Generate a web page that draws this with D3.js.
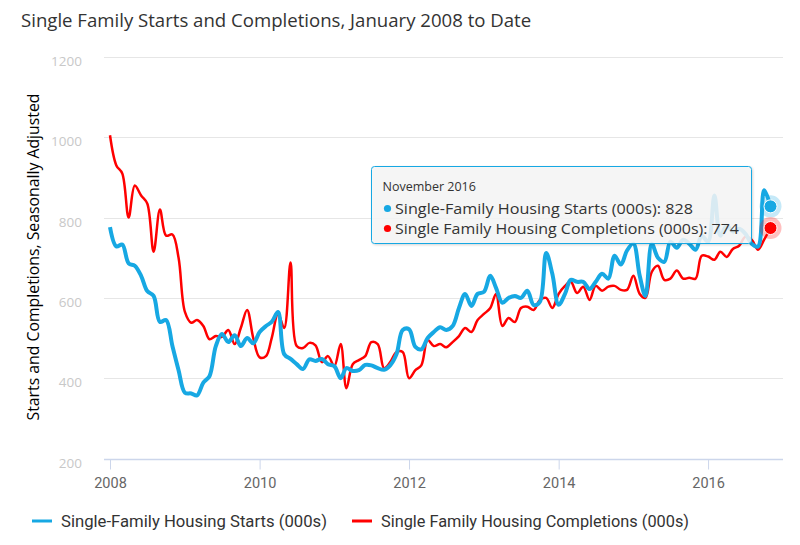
<!DOCTYPE html>
<html><head><meta charset="utf-8">
<script src="https://cdn.jsdelivr.net/npm/d3@7"></script>
<style>
body{margin:0;background:#fff;}
svg{display:block;font-family:"Open Sans",sans-serif;}
</style>
</head><body>
<svg id="c" width="800" height="545"></svg>
<script>
// ---- data (thousands, seasonally adjusted annual rate), monthly from Jan 2008 ----
const firstYear = 2008;
const starts = [
  776,728,733,686,680,655,617,605,540,545,480,420,
  364,362,357,389,405,480,510,490,507,480,500,487,
  515,530,540,565,460,448,435,423,447,443,448,435,
  430,400,425,418,420,433,432,425,421,432,460,520,
  522,478,472,500,515,527,520,530,575,610,580,610,
  615,655,625,588,600,605,600,618,582,590,712,660,
  583,610,645,640,640,622,640,660,648,705,683,718,
  735,655,605,735,700,690,740,725,745,735,720,755,
  740,855,755,780,765,772,760,735,728,868,828
];
const completions = [
  1005,930,910,800,880,855,835,715,820,755,758,700,
  565,538,545,530,497,505,503,520,485,525,570,500,
  452,455,500,560,525,688,480,475,488,482,440,455,
  430,485,375,435,445,455,490,485,425,440,465,465,
  400,420,432,495,480,485,477,490,505,525,515,545,
  560,575,610,530,550,540,575,578,570,595,600,575,
  610,630,640,612,628,595,630,618,628,630,620,620,
  655,610,600,665,680,645,648,668,648,650,648,705,
  703,695,715,702,722,730,752,745,720,745,774
];
const seriesNames = ["Single-Family Housing Starts (000s)", "Single Family Housing Completions (000s)"];
const seriesColors = ["#17a8e3", "#ff0000"];
const yTicks = [200, 400, 600, 800, 1000, 1200];
const xTickYears = [2008, 2010, 2012, 2014, 2016];
const titleText = "Single Family Starts and Completions, January 2008 to Date";
const yTitle = "Starts and Completions, Seasonally Adjusted";
const tooltipHeader = "November 2016";

// ---- layout ----
const svg = d3.select("#c");
const dates = starts.map((_, i) => new Date(firstYear, i, 1));
const x = d3.scaleTime().domain([dates[0], dates[dates.length - 1]]).range([110, 770.5]);
const y = d3.scaleLinear().domain([200, 1200]).range([458.5, 57]);
const plotLeft = 104, plotRight = 783;

svg.append("text").attr("x", 21).attr("y", 27)
  .attr("font-size", 18.6).attr("fill", "#333").text(titleText);

// grid
svg.append("g").selectAll("line").data(yTicks.filter(t => t !== 200)).join("line")
  .attr("x1", plotLeft).attr("x2", plotRight)
  .attr("y1", d => Math.round(y(d)) + 0.5).attr("y2", d => Math.round(y(d)) + 0.5)
  .attr("stroke", "#e6e6e6").attr("stroke-width", 1);

// y labels
svg.append("g").selectAll("text").data(yTicks).join("text")
  .attr("x", 82).attr("y", d => y(d) + 9).attr("text-anchor", "end")
  .attr("font-size", 13.5).attr("fill", "#c8c8c8").text(d => d);

// y title
svg.append("text").attr("transform", "translate(39,257) rotate(-90)")
  .attr("text-anchor", "middle").attr("font-size", 15.8).attr("fill", "#000").text(yTitle);

// x axis
const xAxis = d3.axisBottom(x)
  .tickValues(xTickYears.map(yr => new Date(yr, 0, 1)))
  .tickFormat(d3.timeFormat("%Y")).tickSize(10).tickSizeOuter(0);
const gx = svg.append("g").attr("transform", `translate(0,${Math.round(y(200)) + 0.5})`).call(xAxis);
gx.select(".domain").remove();
gx.insert("line", ":first-child").attr("x1", plotLeft).attr("x2", plotRight)
  .attr("stroke", "#ccd6eb").attr("stroke-width", 1.5);
gx.selectAll(".tick line").attr("stroke", "#ccd6eb");
gx.selectAll(".tick text").attr("font-size", 14.5).attr("fill", "#666").attr("dy", "1.05em")
  .attr("font-family", "Roboto, sans-serif");

// lines
const line = d3.line().x((d, i) => x(dates[i])).y(d => y(d)).curve(d3.curveCatmullRom.alpha(0.5));
svg.append("path").datum(completions).attr("d", line).attr("fill", "none")
  .attr("stroke", seriesColors[1]).attr("stroke-width", 2.5).attr("stroke-linejoin", "round");
svg.append("path").datum(starts).attr("d", line).attr("fill", "none")
  .attr("stroke", seriesColors[0]).attr("stroke-width", 4).attr("stroke-linejoin", "round");

// hover markers
const last = dates.length - 1;
[[starts, 0], [completions, 1]].forEach(([s, k]) => {
  svg.append("circle").attr("cx", x(dates[last])).attr("cy", y(s[last])).attr("r", 11)
    .attr("fill", seriesColors[k]).attr("opacity", 0.25);
  svg.append("circle").attr("cx", x(dates[last])).attr("cy", y(s[last])).attr("r", 6.5)
    .attr("fill", seriesColors[k]).attr("stroke", "#fff").attr("stroke-width", 1);
});

// tooltip
const defs = svg.append("defs");
const f = defs.append("filter").attr("id", "sh").attr("x", "-10%").attr("y", "-20%").attr("width", "120%").attr("height", "150%");
f.append("feDropShadow").attr("dx", 1).attr("dy", 1).attr("stdDeviation", 1.2).attr("flood-color", "#000").attr("flood-opacity", 0.18);
const tt = svg.append("g").attr("transform", "translate(371.5,166.5)");
tt.append("rect").attr("width", 380).attr("height", 77).attr("rx", 3)
  .attr("fill", "rgba(247,247,247,0.85)").attr("stroke", seriesColors[0]).attr("stroke-width", 1)
  .attr("filter", "url(#sh)");
tt.append("text").attr("x", 11).attr("y", 24).attr("font-size", 12.5).attr("fill", "#333").text(tooltipHeader);
const vals = [starts[last], completions[last]];
const rowWidths = [298, 344];
[0, 1].forEach(k => {
  tt.append("circle").attr("cx", 16).attr("cy", 42 + k * 20).attr("r", 3.6).attr("fill", seriesColors[k]);
  tt.append("text").attr("x", 23.5).attr("y", 47.5 + k * 20).attr("font-size", 14.6).attr("fill", "#333")
    .attr("textLength", rowWidths[k]).attr("lengthAdjust", "spacingAndGlyphs")
    .text(`${seriesNames[k]}: ${vals[k]}`);
});

// legend
const lg = svg.append("g").attr("font-family", "Roboto, sans-serif");
const legendX = [32, 352];
const legendW = [266, 308];
seriesNames.forEach((n, k) => {
  lg.append("line").attr("x1", legendX[k]).attr("x2", legendX[k] + 20).attr("y1", 521).attr("y2", 521)
    .attr("stroke", seriesColors[k]).attr("stroke-width", 3);
  lg.append("text").attr("x", legendX[k] + 29).attr("y", 526.5).attr("font-size", 16.5).attr("fill", "#333")
    .attr("textLength", legendW[k]).attr("lengthAdjust", "spacingAndGlyphs").text(n);
});
</script>
</body></html>
